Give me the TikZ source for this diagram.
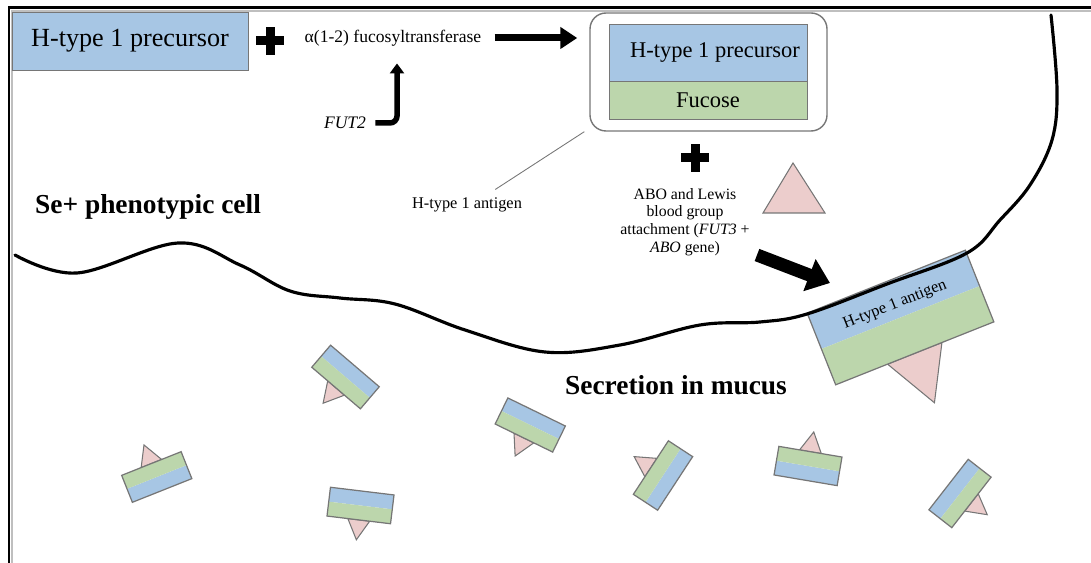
\documentclass[tikz,border=0pt]{standalone}
\usepackage{fontspec}
\setmainfont{Liberation Serif}
\usetikzlibrary{arrows.meta,positioning}

\definecolor{agblue}{RGB}{167,198,228}
\definecolor{aggreen}{RGB}{188,214,172}
\definecolor{agpink}{RGB}{236,205,204}
\definecolor{aggray}{RGB}{118,118,118}

\newcommand{\pxl}{0.02cm}

\tikzset{
  bluebox/.style={draw=aggray, fill=agblue, inner sep=0pt},
  greenbox/.style={draw=aggray, fill=aggreen, inner sep=0pt},
  membrane/.style={line width=1.8pt, line cap=round},
  fatarrow/.style={line width=0.14cm, -{Triangle[length=0.34cm,width=0.42cm]}},
  hugearrow/.style={line width=0.26cm, -{Triangle[length=0.44cm,width=0.66cm]}},
  bentarrow/.style={line width=0.11cm, rounded corners=0.14cm, -{Triangle[length=0.2cm,width=0.28cm]}},
  antigen/.pic={
    \filldraw[fill=agpink, draw=aggray, line width=0.6pt] (-11,14.5) -- (0,34.5) -- (11,14.5) -- cycle;
    \fill[agblue] (-32,-14.5) rectangle (32,0);
    \fill[aggreen] (-32,0) rectangle (32,14.5);
    \draw[aggray, line width=0.7pt] (-32,-14.5) rectangle (32,14.5);
  },
  plussign/.pic={
    \fill (-14,-4.5) rectangle (14,4.5);
    \fill (-4.5,-14) rectangle (4.5,14);
  }
}

\begin{document}
\begin{tikzpicture}[x=0.02cm, y=-0.02cm, every node/.style={inner sep=0pt}]
  \useasboundingbox (0,0) rectangle (1091,563);

  % frame
  \draw[black!25, line width=1.2pt] (1091,11) -- (12,11) -- (12,563);
  \draw[line width=1.7pt] (1091,8) -- (9,8) -- (9,563);

  % top reaction
  \node[bluebox, minimum width=236*\pxl, minimum height=58*\pxl,
        font=\fontsize{14.9}{17}\selectfont] (prec) at (130,41) {H-type 1 precursor};
  \pic at (270,41) {plussign};
  \node[font=\fontsize{10}{12}\selectfont] (enz) at (393,38) {α(1-2) fucosyltransferase};
  \node[font=\fontsize{10}{12}\selectfont\itshape] (fut) at (345,123) {FUT2};

  \node[draw=aggray, line width=0.8pt, rounded corners=16*\pxl,
        minimum width=237*\pxl, minimum height=118*\pxl] (prod) at (708.5,72) {};
  \node[bluebox, minimum width=198*\pxl, minimum height=57*\pxl,
        font=\fontsize{12.8}{15}\selectfont] (precin) at (708,52.5) {\hspace{8pt}H-type 1 precursor};
  \node[greenbox, minimum width=198*\pxl, minimum height=38*\pxl,
        font=\fontsize{12.8}{15}\selectfont, below=0pt of precin] (fuc) {Fucose};

  \draw[fatarrow] ([xshift=13*\pxl]enz.east) -- ([xshift=-12*\pxl]prod.west |- enz.east);
  \draw[bentarrow] ([xshift=9*\pxl]fut.east) -| ([xshift=4*\pxl, yshift=-17*\pxl]enz.south);

  % antigen label and attachment
  \node[font=\fontsize{9.3}{11}\selectfont] (antlbl) at (467,205) {H-type 1 antigen};
  \draw[aggray, line width=0.5pt] ([xshift=-5*\pxl]prod.south west) -- ([xshift=-27*\pxl, yshift=8*\pxl]antlbl.north east);

  \pic at (695,158) {plussign};
  \node[align=center, font=\fontsize{9}{10}\selectfont] (abo) at (685,222)
    {ABO and Lewis\\blood group\\attachment (\textit{FUT3} +\\\textit{ABO} gene)};
  \filldraw[fill=agpink, draw=aggray, line width=0.6pt] (763,213) -- (825,213) -- (793,163) -- cycle;

  \node[font=\bfseries\fontsize{15.6}{18}\selectfont] (cell) at (148,207) {Se+ phenotypic cell};
  \node[font=\bfseries\fontsize{15.6}{18}\selectfont] (mucus) at (676,385) {Secretion in mucus};

  % antigen on the membrane
  \pic[rotate=21.7, scale=2.66] at (900.5,317.5) {antigen};
  \node[rotate=21.7, font=\fontsize{9.3}{11}\selectfont] (biglbl) at (895,305) {H-type 1 antigen};
  \coordinate (bigtail) at (757,255);
  \coordinate (bigtip) at (830,283);
  \draw[hugearrow] (bigtail) -- (bigtip);

  % cell membrane
  \draw[membrane] plot[smooth, tension=0.6] coordinates {(15,255) (77,273) (178,243) (240,265)
    (290,291) (340,298) (395,304) (465,330) (545,352) (620,345) (700,325) (760,322) (807,314)
    (887,284) (967,253) (1000,220) (1030,185) (1052,140) (1057,90) (1051,15)};

  % secreted antigens
  \foreach \cx/\cy/\rot in {345.5/377/-40.5, 156.75/477/201.7, 360.5/505.5/-6.9,
      530.25/425/-26, 663/475.5/236.8, 808/466/170.4, 960/493.5/52.1}
    \pic[rotate=\rot] at (\cx,\cy) {antigen};
\end{tikzpicture}
\end{document}
